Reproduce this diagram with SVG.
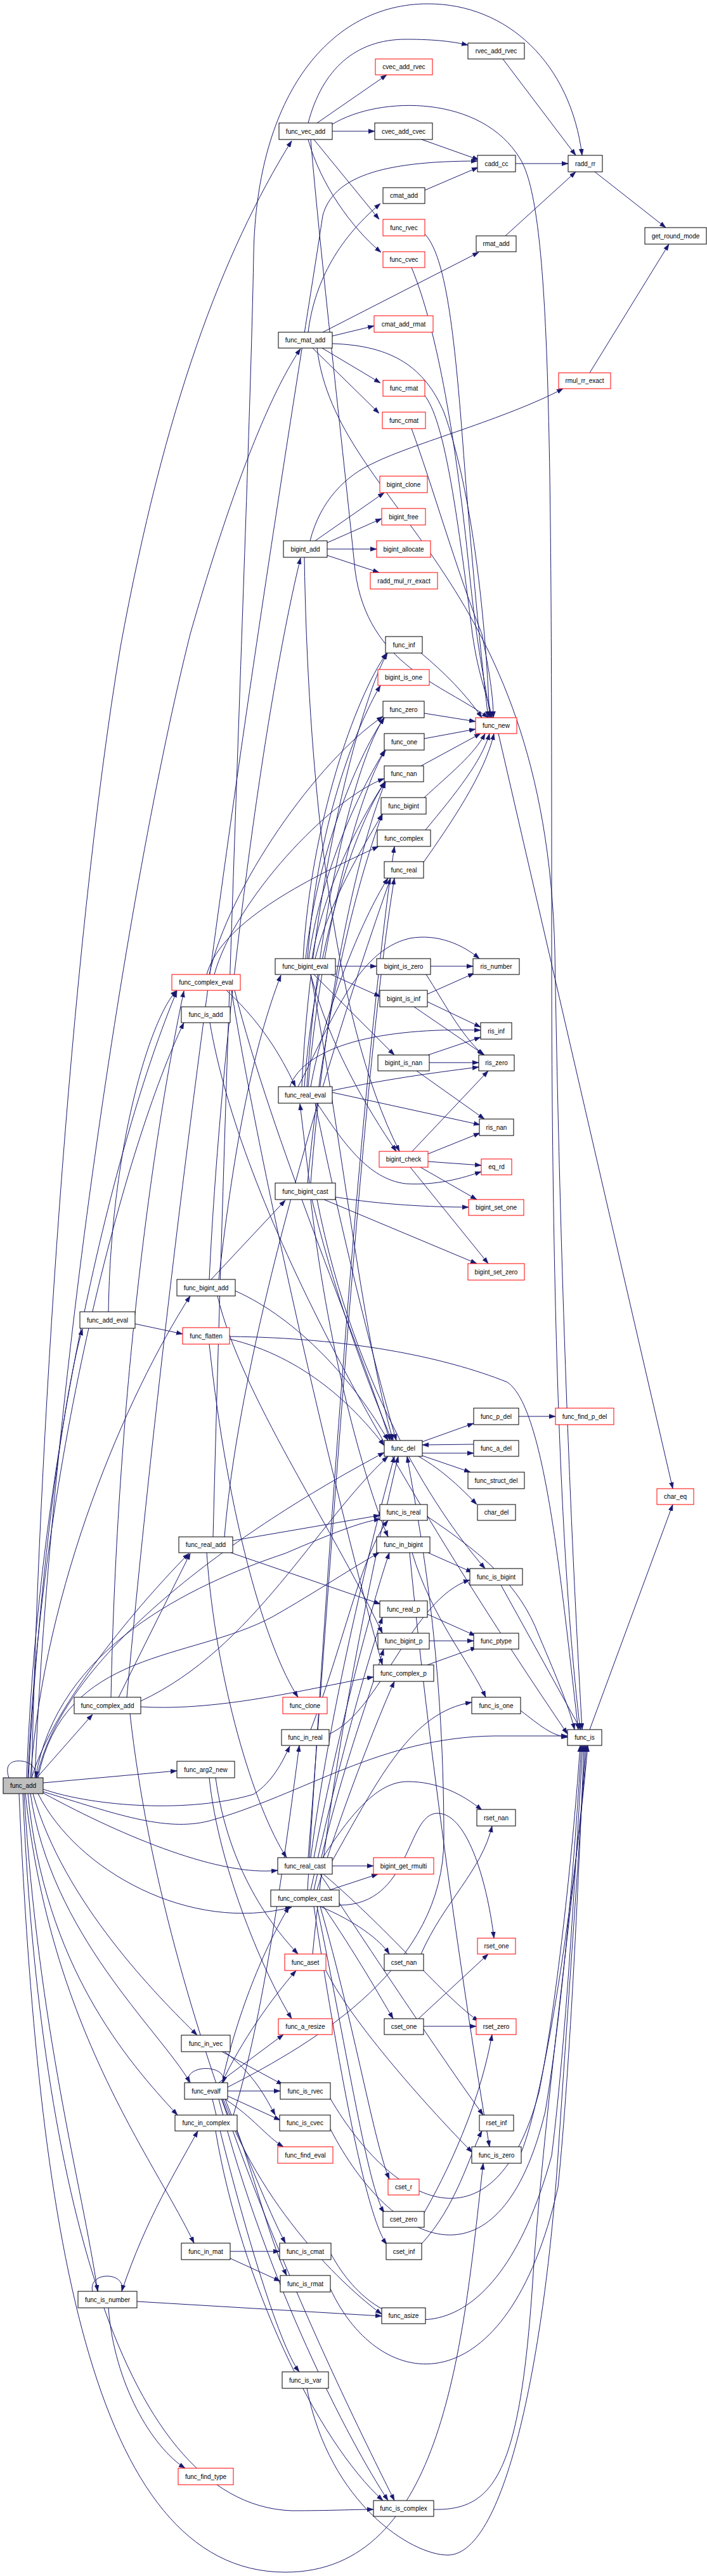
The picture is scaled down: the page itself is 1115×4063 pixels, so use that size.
<svg xmlns="http://www.w3.org/2000/svg" width="1115" height="4063" viewBox="0 0 1115 4063">
<style>
.b{fill:#fff;stroke:#000;stroke-width:1}
.r{fill:#fff;stroke:#f00;stroke-width:1}
.g{fill:#bfbfbf;stroke:#000;stroke-width:1}
text{font-family:"Liberation Sans",Arial,Helvetica,sans-serif;font-size:10px;text-anchor:middle;fill:#000}
</style>
<defs>
<marker id="ah" markerUnits="userSpaceOnUse" markerWidth="10" markerHeight="8" refX="10" refY="4" orient="auto">
<path d="M0,0.5 L10,4 L0,7.5 z" fill="#191970" stroke="#191970" stroke-width="0.5"/>
</marker>
</defs>
<rect x="0" y="0" width="1115" height="4063" fill="#fff"/>
<g id="edges" fill="none" stroke="#191970" stroke-width="1" marker-end="url(#ah)">
<path d="M486,194 C508,110 560,62 640,62 C690,62 715,66 738,71"/>
<path d="M500,194 L610,118"/>
<path d="M524,207 L591,207"/>
<path d="M495,220 L598,346"/>
<path d="M486,220 C505,290 555,360 601,398"/>
<path d="M524,196 C600,150 760,150 820,250 C870,330 870,700 870,1500 C870,2300 900,2600 915,2728"/>
<path d="M490,220 C505,400 540,700 560,900 C580,1050 700,1080 770,1132"/>
<path d="M665,220 L755,252"/>
<path d="M670,300 L754,264"/>
<path d="M813,258 L896,258"/>
<path d="M793,93 L908,245"/>
<path d="M797,372 L908,271"/>
<path d="M938,271 L1050,359"/>
<path d="M930,588 L1055,385"/>
<path d="M336,2424 C360,1500 395,700 400,400 C405,150 520,6 675,6 C800,6 900,100 918,245"/>
<path d="M200,2677 C300,1600 470,600 509,340 C525,280 600,254 753,254"/>
<path d="M50,2804 C60,2300 110,1500 190,1020 C260,640 350,400 460,222"/>
<path d="M55,2804 C80,2200 200,1400 300,1000 C380,720 440,600 474,550"/>
<path d="M509,524 L755,398"/>
<path d="M524,530 L590,514"/>
<path d="M486,524 C495,450 530,380 600,321"/>
<path d="M508,549 L600,604"/>
<path d="M493,549 L598,652"/>
<path d="M524,542 C620,545 670,580 700,650 C740,760 765,950 772,1132"/>
<path d="M500,549 C530,800 860,900 875,1500 C885,2100 905,2500 918,2728"/>
<path d="M669,368 C700,400 715,500 730,700 C745,900 760,1050 770,1132"/>
<path d="M649,422 C690,520 720,700 740,900 C752,1020 765,1080 774,1132"/>
<path d="M669,623 C700,660 720,800 745,1000 C755,1070 770,1100 776,1132"/>
<path d="M649,676 C680,760 720,900 760,1000 C772,1060 778,1100 778,1132"/>
<path d="M497,853 L606,777"/>
<path d="M516,856 L602,818"/>
<path d="M516,866 L594,866"/>
<path d="M516,876 L598,903"/>
<path d="M489,853 C505,790 545,750 590,730 C650,700 800,660 888,613"/>
<path d="M480,879 C485,1200 520,1600 630,1816"/>
<path d="M330,2018 C350,1600 420,1100 474,880"/>
<path d="M333,2018 L450,1893"/>
<path d="M371,2036 C470,2080 560,2180 612,2272"/>
<path d="M343,2044 C380,2200 520,2400 603,2576"/>
<path d="M345,2018 C370,1800 400,1650 443,1538"/>
<path d="M664,1030 C700,1060 735,1095 760,1132"/>
<path d="M669,1125 L750,1138"/>
<path d="M669,1165 L750,1150"/>
<path d="M664,1208 L758,1157"/>
<path d="M669,1258 C710,1220 748,1190 765,1157"/>
<path d="M671,1309 C720,1250 760,1200 772,1157"/>
<path d="M668,1360 C710,1300 765,1220 779,1157"/>
<path d="M786,1157 L1061,2348"/>
<path d="M529,1524 L594,1524"/>
<path d="M522,1537 L600,1572"/>
<path d="M495,1537 L622,1664"/>
<path d="M490,1537 C520,1650 580,1750 625,1816"/>
<path d="M485,1512 C500,1300 560,1150 600,1081"/>
<path d="M482,1512 C500,1350 560,1200 606,1132"/>
<path d="M487,1512 C505,1380 565,1250 607,1183"/>
<path d="M478,1512 C490,1300 560,1100 610,1030"/>
<path d="M492,1512 C510,1400 570,1290 607,1233"/>
<path d="M497,1512 C520,1420 570,1340 603,1284"/>
<path d="M490,1537 C540,1800 570,2100 620,2272"/>
<path d="M524,1723 L757,1774"/>
<path d="M457,1714 C480,1650 600,1620 758,1625"/>
<path d="M470,1714 C520,1620 560,1500 646,1480 C690,1472 730,1490 756,1512"/>
<path d="M524,1720 C620,1700 700,1690 755,1683"/>
<path d="M500,1740 C540,1800 580,1860 640,1867 C690,1870 730,1858 759,1848"/>
<path d="M490,1714 C510,1600 570,1450 612,1385"/>
<path d="M480,1714 C495,1500 560,1300 608,1233"/>
<path d="M484,1714 C500,1450 560,1200 606,1132"/>
<path d="M486,1714 C505,1480 565,1250 608,1183"/>
<path d="M476,1714 C490,1400 570,1100 611,1030"/>
<path d="M497,1740 C540,1950 590,2150 625,2272"/>
<path d="M357,1562 C420,1620 450,1680 466,1714"/>
<path d="M326,1537 C350,1450 500,1380 597,1335"/>
<path d="M330,1537 C360,1400 500,1200 604,1130"/>
<path d="M338,1537 C370,1420 520,1260 606,1228"/>
<path d="M370,1562 C430,1800 560,2100 615,2272"/>
<path d="M365,1562 C420,1900 540,2400 603,2626"/>
<path d="M331,1613 C380,1900 600,2300 895,2735"/>
<path d="M679,1524 L746,1524"/>
<path d="M672,1537 C700,1580 725,1630 762,1664"/>
<path d="M674,1568 L748,1535"/>
<path d="M674,1580 L758,1620"/>
<path d="M653,1588 L764,1664"/>
<path d="M675,1664 L758,1636"/>
<path d="M677,1676 L755,1676"/>
<path d="M657,1689 L764,1765"/>
<path d="M650,1816 L770,1689"/>
<path d="M675,1820 L757,1787"/>
<path d="M675,1832 L759,1838"/>
<path d="M663,1841 L752,1892"/>
<path d="M647,1841 L770,1993"/>
<path d="M529,1888 C600,1900 680,1904 739,1904"/>
<path d="M511,1892 L752,1993"/>
<path d="M488,1866 L473,1741"/>
<path d="M485,1866 C510,1600 560,1400 603,1284"/>
<path d="M490,1866 C510,1600 560,1350 608,1233"/>
<path d="M492,1892 C530,2050 580,2180 618,2272"/>
<path d="M500,1892 C560,2200 700,2400 765,2474"/>
<path d="M490,1892 C520,2150 580,2350 612,2424"/>
<path d="M213,2088 L288,2104"/>
<path d="M171,2069 C175,1800 240,1600 279,1562"/>
<path d="M44,2804 C65,2300 200,1800 290,1613"/>
<path d="M362,2108 C550,2110 700,2140 800,2180 C860,2220 885,2500 912,2728"/>
<path d="M362,2112 C480,2140 560,2220 606,2280"/>
<path d="M330,2120 C360,2400 420,2600 470,2677"/>
<path d="M666,2274 L747,2245"/>
<path d="M666,2292 L747,2292"/>
<path d="M747,2278 L666,2279"/>
<path d="M666,2296 L742,2322"/>
<path d="M660,2297 C700,2320 730,2350 752,2373"/>
<path d="M818,2234 L876,2234"/>
<path d="M367,2430 L599,2390"/>
<path d="M364,2449 L600,2530"/>
<path d="M354,2424 C380,2100 540,1600 616,1385"/>
<path d="M326,2449 C340,2650 400,2850 452,2930"/>
<path d="M675,2449 L745,2480"/>
<path d="M650,2449 C680,2550 740,2620 766,2677"/>
<path d="M646,2449 C680,2800 740,3200 772,3386"/>
<path d="M674,2546 L750,2580"/>
<path d="M677,2588 L747,2588"/>
<path d="M674,2626 L752,2598"/>
<path d="M674,2392 C760,2450 820,2500 850,2580 C880,2650 900,2700 906,2728"/>
<path d="M790,2500 L916,2728"/>
<path d="M821,2698 C850,2720 870,2738 895,2740"/>
<path d="M930,2728 L1061,2373"/>
<path d="M187,2677 L300,2450"/>
<path d="M175,2677 C185,2200 240,1800 290,1563"/>
<path d="M222,2683 C400,2600 500,2400 612,2297"/>
<path d="M222,2692 C350,2700 500,2660 589,2645"/>
<path d="M205,2703 C260,3200 500,3700 622,3944"/>
<path d="M490,2728 C540,2600 570,2450 612,2398"/>
<path d="M519,2735 C600,2700 650,2520 741,2492"/>
<path d="M68,2812 L279,2793"/>
<path d="M68,2822 C150,2850 300,2860 400,2830 C430,2810 445,2780 457,2754"/>
<path d="M68,2826 C180,2860 260,2890 330,2872 C480,2830 600,2740 780,2738 L895,2738"/>
<path d="M60,2804 C100,2600 300,2620 430,2550 C500,2510 560,2470 598,2449"/>
<path d="M56,2804 C90,2600 300,2500 450,2450 C520,2420 570,2400 600,2396"/>
<path d="M58,2804 C100,2600 400,2400 606,2291"/>
<path d="M50,2804 C80,2700 200,2550 298,2450"/>
<path d="M58,2804 L146,2704"/>
<path d="M48,2804 C70,2500 200,2200 300,2044"/>
<path d="M45,2804 C60,2500 100,2200 130,2096"/>
<path d="M42,2804 C60,2300 180,1800 279,1563"/>
<path d="M68,2828 C200,2900 350,2960 438,2950"/>
<path d="M60,2829 C120,2950 300,3050 460,3008"/>
<path d="M52,2829 C100,3000 250,3150 311,3210"/>
<path d="M48,2829 C80,3050 250,3200 300,3285"/>
<path d="M44,2829 C70,3100 200,3250 280,3336"/>
<path d="M40,2829 C80,3200 240,3400 306,3538"/>
<path d="M38,2829 C60,3200 130,3450 154,3614"/>
<path d="M36,2829 C60,3400 180,3950 460,3960 C520,3960 560,3958 589,3958"/>
<path d="M30,2829 C60,3500 140,4057 450,4057 C700,4057 730,3700 762,3412"/>
<path d="M14,2804 C5,2778 25,2776 36,2778 C50,2780 58,2790 57,2804"/>
<path d="M330,2804 C345,2950 420,3120 460,3184"/>
<path d="M340,2804 C360,2950 430,3040 470,3082"/>
<path d="M524,2943 L589,2943"/>
<path d="M509,2930 C560,2850 600,2810 643,2810 C690,2810 730,2830 760,2855"/>
<path d="M510,2956 C620,3050 700,3150 755,3188"/>
<path d="M505,2956 C600,3100 700,3250 762,3336"/>
<path d="M486,2930 C520,2500 570,1700 622,1385"/>
<path d="M490,2930 C520,2700 580,2450 622,2297"/>
<path d="M495,2930 C530,2750 580,2550 614,2449"/>
<path d="M524,2935 C600,2800 650,2700 744,2685"/>
<path d="M520,2981 L596,2956"/>
<path d="M505,3007 C560,3030 600,3060 614,3082"/>
<path d="M510,3007 C560,3080 600,3150 620,3184"/>
<path d="M505,3007 C560,3200 590,3380 614,3437"/>
<path d="M500,3007 C550,3250 580,3450 606,3490"/>
<path d="M495,3007 C540,3300 580,3500 610,3540"/>
<path d="M485,2981 C520,2400 570,1700 622,1335"/>
<path d="M490,2981 C530,2800 570,2650 603,2551"/>
<path d="M495,2981 C535,2800 575,2700 605,2601"/>
<path d="M500,2981 C540,2850 600,2700 622,2652"/>
<path d="M535,3005 C650,3005 640,2860 690,2860 C740,2860 770,2980 779,3057"/>
<path d="M664,3082 C700,3000 760,2950 776,2880"/>
<path d="M668,3196 L751,3196"/>
<path d="M660,3184 L770,3082"/>
<path d="M669,3490 C720,3400 760,3300 776,3209"/>
<path d="M664,3540 C720,3480 740,3400 760,3361"/>
<path d="M297,3285 C290,3255 360,3255 352,3285"/>
<path d="M359,3298 L442,3298"/>
<path d="M359,3306 L442,3344"/>
<path d="M355,3311 C400,3340 420,3370 447,3386"/>
<path d="M350,3285 C380,3220 430,3150 467,3108"/>
<path d="M345,3285 L447,3209"/>
<path d="M355,3311 C400,3420 420,3520 452,3589"/>
<path d="M352,3311 C390,3400 420,3480 450,3538"/>
<path d="M350,3311 C420,3500 560,3620 602,3650"/>
<path d="M345,3311 C420,3600 550,3850 612,3944"/>
<path d="M359,3292 C500,3220 700,3100 700,2900 C700,2600 660,2400 642,2297"/>
<path d="M350,3285 C380,3150 430,3050 456,3007"/>
<path d="M335,3311 C380,3500 440,3700 472,3741"/>
<path d="M350,3236 L446,3288"/>
<path d="M354,3236 C400,3270 420,3310 434,3336"/>
<path d="M340,3361 C380,3600 500,3850 604,3944"/>
<path d="M368,3336 C410,3200 440,3000 472,2753"/>
<path d="M363,3551 L441,3551"/>
<path d="M363,3562 L442,3598"/>
<path d="M146,3614 C138,3582 200,3582 192,3614"/>
<path d="M216,3630 L602,3653"/>
<path d="M192,3614 C230,3500 280,3420 312,3361"/>
<path d="M171,3640 C180,3760 240,3860 292,3893"/>
<path d="M521,3310 C620,3480 780,3560 850,3300 C880,3150 905,2900 915,2753"/>
<path d="M521,3358 C620,3550 790,3620 860,3330 C890,3150 908,2900 917,2753"/>
<path d="M522,3555 C600,3700 780,3730 870,3400 C895,3200 910,2900 919,2753"/>
<path d="M521,3610 C600,3780 800,3800 880,3450 C900,3250 913,2950 921,2753"/>
<path d="M484,3767 C520,3950 650,4030 706,4030 C800,4030 860,3700 880,3400 C900,3100 915,2900 923,2753"/>
<path d="M684,3958 C780,3960 820,3900 840,3600 C860,3300 912,2950 925,2753"/>
<path d="M822,3395 C860,3300 905,3000 927,2753"/>
<path d="M493,3082 C520,2800 580,2500 628,2297"/>
<path d="M514,3108 C560,3200 700,3350 745,3395"/>
</g>
<g id="n-rvec_add_rvec"><rect class="b" x="738" y="68" width="89" height="25"/><text x="782.5" y="84">rvec_add_rvec</text></g>
<g id="n-cvec_add_rvec"><rect class="r" x="592" y="93" width="90" height="25"/><text x="637" y="109">cvec_add_rvec</text></g>
<g id="n-func_vec_add"><rect class="b" x="440" y="194" width="84" height="26"/><text x="482" y="210.5">func_vec_add</text></g>
<g id="n-cvec_add_cvec"><rect class="b" x="591" y="194" width="91" height="26"/><text x="636.5" y="210.5">cvec_add_cvec</text></g>
<g id="n-cadd_cc"><rect class="b" x="753" y="245" width="60" height="26"/><text x="783" y="261.5">cadd_cc</text></g>
<g id="n-radd_rr"><rect class="b" x="896" y="245" width="54" height="26"/><text x="923" y="261.5">radd_rr</text></g>
<g id="n-cmat_add"><rect class="b" x="604" y="296" width="66" height="25"/><text x="637" y="312">cmat_add</text></g>
<g id="n-func_rvec"><rect class="r" x="604" y="346" width="66" height="26"/><text x="637" y="362.5">func_rvec</text></g>
<g id="n-get_round_mode"><rect class="b" x="1017" y="359" width="97" height="26"/><text x="1065.5" y="375.5">get_round_mode</text></g>
<g id="n-rmat_add"><rect class="b" x="751" y="372" width="63" height="25"/><text x="782.5" y="388">rmat_add</text></g>
<g id="n-func_cvec"><rect class="r" x="604" y="397" width="66" height="25"/><text x="637" y="413">func_cvec</text></g>
<g id="n-cmat_add_rmat"><rect class="r" x="590" y="498" width="93" height="26"/><text x="636.5" y="514.5">cmat_add_rmat</text></g>
<g id="n-func_mat_add"><rect class="b" x="439" y="524" width="85" height="25"/><text x="481.5" y="540">func_mat_add</text></g>
<g id="n-rmul_rr_exact"><rect class="r" x="881" y="588" width="82" height="25"/><text x="922" y="604">rmul_rr_exact</text></g>
<g id="n-func_rmat"><rect class="r" x="604" y="600" width="66" height="25"/><text x="637" y="616">func_rmat</text></g>
<g id="n-func_cmat"><rect class="r" x="603" y="650" width="68" height="26"/><text x="637" y="666.5">func_cmat</text></g>
<g id="n-bigint_clone"><rect class="r" x="599" y="751" width="75" height="26"/><text x="636.5" y="767.5">bigint_clone</text></g>
<g id="n-bigint_free"><rect class="r" x="602" y="802" width="69" height="26"/><text x="636.5" y="818.5">bigint_free</text></g>
<g id="n-bigint_add"><rect class="b" x="447" y="853" width="69" height="26"/><text x="481.5" y="869.5">bigint_add</text></g>
<g id="n-bigint_allocate"><rect class="r" x="594" y="853" width="85" height="26"/><text x="636.5" y="869.5">bigint_allocate</text></g>
<g id="n-radd_mul_rr_exact"><rect class="r" x="584" y="903" width="106" height="26"/><text x="637" y="919.5">radd_mul_rr_exact</text></g>
<g id="n-func_inf"><rect class="b" x="608" y="1004" width="58" height="26"/><text x="637" y="1020.5">func_inf</text></g>
<g id="n-bigint_is_one"><rect class="r" x="596" y="1056" width="81" height="25"/><text x="636.5" y="1072">bigint_is_one</text></g>
<g id="n-func_zero"><rect class="b" x="604" y="1106" width="65" height="26"/><text x="636.5" y="1122.5">func_zero</text></g>
<g id="n-func_new"><rect class="r" x="750" y="1132" width="65" height="25"/><text x="782.5" y="1148">func_new</text></g>
<g id="n-func_one"><rect class="b" x="606" y="1157" width="63" height="26"/><text x="637.5" y="1173.5">func_one</text></g>
<g id="n-func_nan"><rect class="b" x="606" y="1208" width="62" height="25"/><text x="637" y="1224">func_nan</text></g>
<g id="n-func_bigint"><rect class="b" x="601" y="1258" width="71" height="26"/><text x="636.5" y="1274.5">func_bigint</text></g>
<g id="n-func_complex"><rect class="b" x="595" y="1309" width="84" height="26"/><text x="637" y="1325.5">func_complex</text></g>
<g id="n-func_real"><rect class="b" x="606" y="1359" width="62" height="26"/><text x="637" y="1375.5">func_real</text></g>
<g id="n-func_bigint_eval"><rect class="b" x="434" y="1512" width="95" height="25"/><text x="481.5" y="1528">func_bigint_eval</text></g>
<g id="n-bigint_is_zero"><rect class="b" x="594" y="1512" width="85" height="25"/><text x="636.5" y="1528">bigint_is_zero</text></g>
<g id="n-ris_number"><rect class="b" x="746" y="1512" width="73" height="25"/><text x="782.5" y="1528">ris_number</text></g>
<g id="n-func_complex_eval"><rect class="r" x="271" y="1537" width="108" height="25"/><text x="325" y="1553">func_complex_eval</text></g>
<g id="n-bigint_is_inf"><rect class="b" x="599" y="1562" width="75" height="26"/><text x="636.5" y="1578.5">bigint_is_inf</text></g>
<g id="n-func_is_add"><rect class="b" x="286" y="1588" width="77" height="25"/><text x="324.5" y="1604">func_is_add</text></g>
<g id="n-ris_inf"><rect class="b" x="758" y="1613" width="49" height="26"/><text x="782.5" y="1629.5">ris_inf</text></g>
<g id="n-bigint_is_nan"><rect class="b" x="596" y="1664" width="81" height="25"/><text x="636.5" y="1680">bigint_is_nan</text></g>
<g id="n-ris_zero"><rect class="b" x="755" y="1664" width="56" height="25"/><text x="783" y="1680">ris_zero</text></g>
<g id="n-func_real_eval"><rect class="b" x="439" y="1714" width="85" height="26"/><text x="481.5" y="1730.5">func_real_eval</text></g>
<g id="n-ris_nan"><rect class="b" x="756" y="1765" width="54" height="26"/><text x="783" y="1781.5">ris_nan</text></g>
<g id="n-bigint_check"><rect class="r" x="598" y="1816" width="77" height="25"/><text x="636.5" y="1832">bigint_check</text></g>
<g id="n-eq_rd"><rect class="r" x="759" y="1828" width="48" height="25"/><text x="783" y="1844">eq_rd</text></g>
<g id="n-func_bigint_cast"><rect class="b" x="434" y="1866" width="95" height="26"/><text x="481.5" y="1882.5">func_bigint_cast</text></g>
<g id="n-bigint_set_one"><rect class="r" x="739" y="1892" width="87" height="25"/><text x="782.5" y="1908">bigint_set_one</text></g>
<g id="n-bigint_set_zero"><rect class="r" x="738" y="1993" width="89" height="26"/><text x="782.5" y="2009.5">bigint_set_zero</text></g>
<g id="n-func_bigint_add"><rect class="b" x="279" y="2018" width="92" height="26"/><text x="325" y="2034.5">func_bigint_add</text></g>
<g id="n-func_add_eval"><rect class="b" x="126" y="2069" width="87" height="26"/><text x="169.5" y="2085.5">func_add_eval</text></g>
<g id="n-func_flatten"><rect class="r" x="288" y="2094" width="74" height="26"/><text x="325" y="2110.5">func_flatten</text></g>
<g id="n-func_p_del"><rect class="b" x="747" y="2221" width="71" height="26"/><text x="782.5" y="2237.5">func_p_del</text></g>
<g id="n-func_find_p_del"><rect class="r" x="876" y="2221" width="92" height="26"/><text x="922" y="2237.5">func_find_p_del</text></g>
<g id="n-func_del"><rect class="b" x="606" y="2272" width="60" height="25"/><text x="636" y="2288">func_del</text></g>
<g id="n-func_a_del"><rect class="b" x="747" y="2272" width="71" height="25"/><text x="782.5" y="2288">func_a_del</text></g>
<g id="n-func_struct_del"><rect class="b" x="738" y="2322" width="89" height="26"/><text x="782.5" y="2338.5">func_struct_del</text></g>
<g id="n-char_eq"><rect class="r" x="1036" y="2348" width="58" height="25"/><text x="1065" y="2364">char_eq</text></g>
<g id="n-func_is_real"><rect class="b" x="599" y="2373" width="75" height="25"/><text x="636.5" y="2389">func_is_real</text></g>
<g id="n-char_del"><rect class="b" x="753" y="2373" width="60" height="25"/><text x="783" y="2389">char_del</text></g>
<g id="n-func_real_add"><rect class="b" x="282" y="2424" width="85" height="25"/><text x="324.5" y="2440">func_real_add</text></g>
<g id="n-func_in_bigint"><rect class="b" x="594" y="2424" width="84" height="25"/><text x="636" y="2440">func_in_bigint</text></g>
<g id="n-func_is_bigint"><rect class="b" x="741" y="2474" width="83" height="26"/><text x="782.5" y="2490.5">func_is_bigint</text></g>
<g id="n-func_real_p"><rect class="b" x="599" y="2525" width="75" height="26"/><text x="636.5" y="2541.5">func_real_p</text></g>
<g id="n-func_bigint_p"><rect class="b" x="596" y="2576" width="81" height="25"/><text x="636.5" y="2592">func_bigint_p</text></g>
<g id="n-func_ptype"><rect class="b" x="747" y="2576" width="71" height="25"/><text x="782.5" y="2592">func_ptype</text></g>
<g id="n-func_complex_p"><rect class="b" x="589" y="2626" width="95" height="26"/><text x="636.5" y="2642.5">func_complex_p</text></g>
<g id="n-func_complex_add"><rect class="b" x="117" y="2677" width="105" height="26"/><text x="169.5" y="2693.5">func_complex_add</text></g>
<g id="n-func_clone"><rect class="r" x="446" y="2677" width="70" height="26"/><text x="481" y="2693.5">func_clone</text></g>
<g id="n-func_is_one"><rect class="b" x="744" y="2677" width="77" height="26"/><text x="782.5" y="2693.5">func_is_one</text></g>
<g id="n-func_in_real"><rect class="b" x="444" y="2728" width="75" height="25"/><text x="481.5" y="2744">func_in_real</text></g>
<g id="n-func_is"><rect class="b" x="895" y="2728" width="54" height="25"/><text x="922" y="2744">func_is</text></g>
<g id="n-func_arg2_new"><rect class="b" x="279" y="2778" width="91" height="26"/><text x="324.5" y="2794.5">func_arg2_new</text></g>
<g id="n-func_add"><rect class="g" x="5" y="2804" width="63" height="25"/><text x="36.5" y="2820">func_add</text></g>
<g id="n-rset_nan"><rect class="b" x="752" y="2854" width="61" height="26"/><text x="782.5" y="2870.5">rset_nan</text></g>
<g id="n-func_real_cast"><rect class="b" x="438" y="2930" width="86" height="26"/><text x="481" y="2946.5">func_real_cast</text></g>
<g id="n-bigint_get_rmulti"><rect class="r" x="589" y="2930" width="95" height="26"/><text x="636.5" y="2946.5">bigint_get_rmulti</text></g>
<g id="n-func_complex_cast"><rect class="b" x="427" y="2981" width="108" height="26"/><text x="481" y="2997.5">func_complex_cast</text></g>
<g id="n-rset_one"><rect class="r" x="753" y="3057" width="60" height="25"/><text x="783" y="3073">rset_one</text></g>
<g id="n-func_aset"><rect class="r" x="449" y="3082" width="65" height="26"/><text x="481.5" y="3098.5">func_aset</text></g>
<g id="n-cset_nan"><rect class="b" x="606" y="3082" width="62" height="26"/><text x="637" y="3098.5">cset_nan</text></g>
<g id="n-func_a_resize"><rect class="r" x="439" y="3184" width="85" height="25"/><text x="481.5" y="3200">func_a_resize</text></g>
<g id="n-cset_one"><rect class="b" x="606" y="3184" width="62" height="25"/><text x="637" y="3200">cset_one</text></g>
<g id="n-rset_zero"><rect class="r" x="751" y="3184" width="63" height="25"/><text x="782.5" y="3200">rset_zero</text></g>
<g id="n-func_in_vec"><rect class="b" x="286" y="3210" width="77" height="26"/><text x="324.5" y="3226.5">func_in_vec</text></g>
<g id="n-func_evalf"><rect class="b" x="291" y="3285" width="68" height="26"/><text x="325" y="3301.5">func_evalf</text></g>
<g id="n-func_is_rvec"><rect class="b" x="442" y="3285" width="79" height="26"/><text x="481.5" y="3301.5">func_is_rvec</text></g>
<g id="n-func_in_complex"><rect class="b" x="276" y="3336" width="98" height="25"/><text x="325" y="3352">func_in_complex</text></g>
<g id="n-func_is_cvec"><rect class="b" x="441" y="3336" width="80" height="25"/><text x="481" y="3352">func_is_cvec</text></g>
<g id="n-rset_inf"><rect class="b" x="756" y="3336" width="54" height="25"/><text x="783" y="3352">rset_inf</text></g>
<g id="n-func_find_eval"><rect class="r" x="438" y="3386" width="87" height="26"/><text x="481.5" y="3402.5">func_find_eval</text></g>
<g id="n-func_is_zero"><rect class="b" x="744" y="3386" width="78" height="26"/><text x="783" y="3402.5">func_is_zero</text></g>
<g id="n-cset_r"><rect class="r" x="612" y="3437" width="49" height="25"/><text x="636.5" y="3453">cset_r</text></g>
<g id="n-cset_zero"><rect class="b" x="604" y="3488" width="65" height="25"/><text x="636.5" y="3504">cset_zero</text></g>
<g id="n-func_in_mat"><rect class="b" x="286" y="3538" width="77" height="26"/><text x="324.5" y="3554.5">func_in_mat</text></g>
<g id="n-func_is_cmat"><rect class="b" x="441" y="3538" width="81" height="26"/><text x="481.5" y="3554.5">func_is_cmat</text></g>
<g id="n-cset_inf"><rect class="b" x="609" y="3538" width="56" height="26"/><text x="637" y="3554.5">cset_inf</text></g>
<g id="n-func_is_rmat"><rect class="b" x="442" y="3589" width="79" height="26"/><text x="481.5" y="3605.5">func_is_rmat</text></g>
<g id="n-func_is_number"><rect class="b" x="123" y="3614" width="93" height="26"/><text x="169.5" y="3630.5">func_is_number</text></g>
<g id="n-func_asize"><rect class="b" x="602" y="3640" width="69" height="25"/><text x="636.5" y="3656">func_asize</text></g>
<g id="n-func_is_var"><rect class="b" x="445" y="3741" width="73" height="26"/><text x="481.5" y="3757.5">func_is_var</text></g>
<g id="n-func_find_type"><rect class="r" x="281" y="3893" width="87" height="26"/><text x="324.5" y="3909.5">func_find_type</text></g>
<g id="n-func_is_complex"><rect class="b" x="589" y="3944" width="95" height="25"/><text x="636.5" y="3960">func_is_complex</text></g>
</svg>
